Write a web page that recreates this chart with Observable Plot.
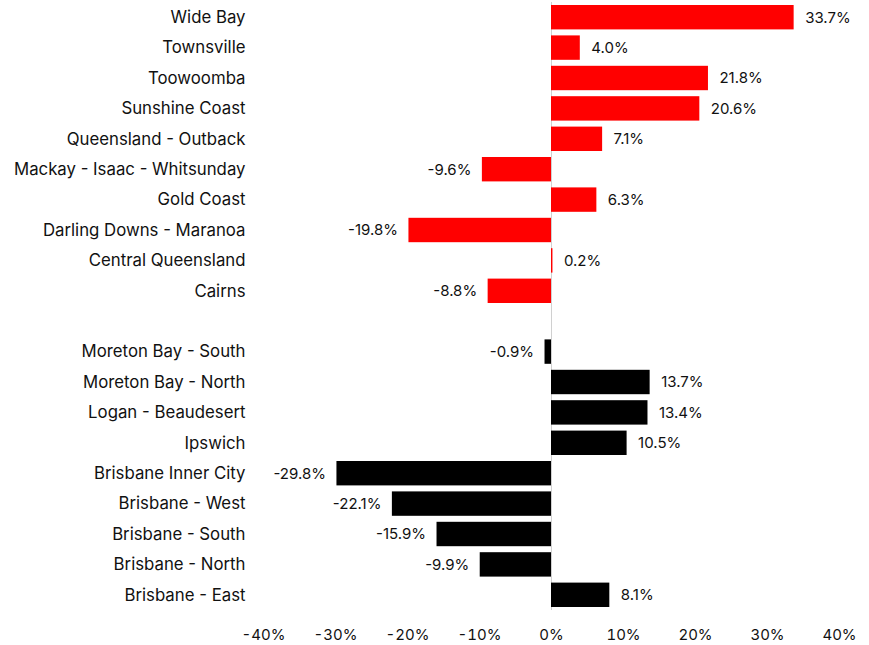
<!DOCTYPE html>
<html>
<head>
<meta charset="utf-8">
<script src="https://cdn.jsdelivr.net/npm/d3@7"></script>
<script src="https://cdn.jsdelivr.net/npm/@observablehq/plot@0.6"></script>
<style>
  html, body { margin: 0; padding: 0; background: #fff; }
  svg { display: block; }
</style>
</head>
<body>
<div id="chart"></div>
<script>
const regionalNames = ["Wide Bay","Townsville","Toowoomba","Sunshine Coast","Queensland - Outback","Mackay - Isaac - Whitsunday","Gold Coast","Darling Downs - Maranoa","Central Queensland","Cairns"];
const regionalValues = [33.7, 4.0, 21.8, 20.6, 7.1, -9.6, 6.3, -19.8, 0.2, -8.8];
const brisbaneNames = ["Moreton Bay - South","Moreton Bay - North","Logan - Beaudesert","Ipswich","Brisbane Inner City","Brisbane - West","Brisbane - South","Brisbane - North","Brisbane - East"];
const brisbaneValues = [-0.9, 13.7, 13.4, 10.5, -29.8, -22.1, -15.9, -9.9, 8.1];
const xTicks = [-40, -30, -20, -10, 0, 10, 20, 30, 40];
const groupColors = {regional: "#ff0000", brisbane: "#000000"};
const spacer = " ";

const data = [
  ...regionalNames.map((n, i) => ({name: n, value: regionalValues[i], group: "regional"})),
  ...brisbaneNames.map((n, i) => ({name: n, value: brisbaneValues[i], group: "brisbane"}))
];
const domain = [...regionalNames, spacer, ...brisbaneNames];
const fmt = v => v.toFixed(1) + "%";

const chart = Plot.plot({
  width: 869,
  height: 645,
  marginLeft: 263,
  marginRight: 30,
  marginTop: 2,
  marginBottom: 35,
  style: {fontFamily: "Inter, sans-serif", fontSize: "15px", color: "#111", background: "#fff"},
  x: {domain: [-40, 40], label: null},
  y: {domain, padding: 0, round: false, label: null},
  color: {domain: Object.keys(groupColors), range: Object.values(groupColors)},
  marks: [
    Plot.axisX({ticks: xTicks, tickFormat: d => d + "%", tickSize: 0, tickPadding: 19, label: null, fontSize: 15}),
    Plot.axisY({tickSize: 0, tickPadding: 18, label: null, fontSize: 16.8}),
    Plot.ruleX([0], {stroke: "#d0d0d0", strokeWidth: 1}),
    Plot.barX(data, {x: "value", y: "name", fill: "group", insetTop: 3, insetBottom: 3}),
    Plot.text(data.filter(d => d.value >= 0), {x: "value", y: "name", text: d => fmt(d.value), textAnchor: "start", dx: 11, fill: "#111", fontSize: 15}),
    Plot.text(data.filter(d => d.value < 0), {x: "value", y: "name", text: d => fmt(d.value), textAnchor: "end", dx: -11, fill: "#111", fontSize: 15})
  ]
});
document.getElementById("chart").appendChild(chart);
</script>
</body>
</html>
